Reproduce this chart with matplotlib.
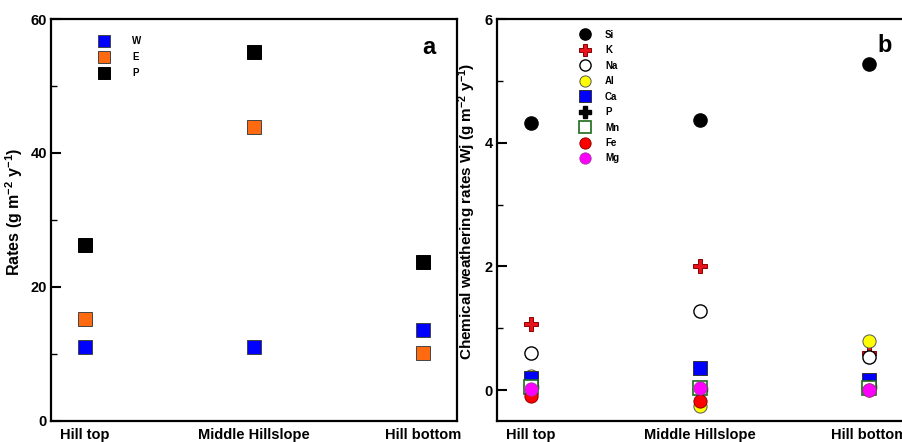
import numpy as np
import matplotlib
matplotlib.use("Agg")
import matplotlib.pyplot as plt
from matplotlib.ticker import MultipleLocator

plt.rcParams['font.family'] = ['Liberation Sans', 'DejaVu Sans']
plt.rcParams['font.weight'] = 'bold'
plt.rcParams['mathtext.fontset'] = 'custom'
plt.rcParams['mathtext.rm'] = 'Liberation Sans:bold'
plt.rcParams['mathtext.bf'] = 'Liberation Sans:bold'
plt.rcParams['mathtext.default'] = 'bf'

sites = ['Hill top', 'Middle Hillslope', 'Hill bottom']

# panel a
w_rates = [11.0, 11.0, 13.6]
e_rates = [15.2, 43.9, 10.1]
p_rates = [26.3, 55.1, 23.7]

# panel b, elements
si = [4.32, 4.36, 5.28]
k = [1.07, 2.00, 0.60]
na = [0.60, 1.28, 0.53]
al = [0.22, -0.25, 0.80]
ca = [0.20, 0.35, 0.17]
p_el = [0.05, 0.02, 0.05]
mn = [0.05, 0.03, 0.03]
fe = [-0.10, -0.17, 0.00]
mg = [0.01, 0.04, 0.00]

x = np.arange(len(sites))

fig = plt.figure(figsize=(9.02, 4.42), dpi=100)
ax1 = fig.add_axes([51 / 902, 21 / 442, 406 / 902, 402 / 442])
ax2 = fig.add_axes([497 / 902, 21 / 442, 406 / 902, 402 / 442])

ms = 10
ax1.plot(x, w_rates, 's', ms=ms, color='#0000ff', mec='#444444', mew=0.7, label='W')
ax1.plot(x, e_rates, 's', ms=ms, color='#ff6a10', mec='#444444', mew=0.7, label='E')
ax1.plot(x, p_rates, 's', ms=ms, color='black', mec='black', mew=0.7, label='P')
ax1.set_ylim(0, 60)
ax1.set_xlim(-0.2, 2.2)
ax1.yaxis.set_major_locator(MultipleLocator(20))
ax1.yaxis.set_minor_locator(MultipleLocator(10))
ax1.set_ylabel('Rates (g m$^{-2}$ y$^{-1}$)', fontsize=11.5, fontweight='bold')
ax1.yaxis.set_label_coords(-0.064, 0.52)
ax1.text(0.93, 0.93, 'a', transform=ax1.transAxes, fontsize=17, fontweight='bold',
         ha='center', va='center')
ax1.legend(loc='upper left', bbox_to_anchor=(0.095, 0.97), frameon=False,
           prop={'size': 7, 'weight': 'bold'}, markerscale=0.8,
           labelspacing=0.62, handletextpad=1.9, borderpad=0)

ms2 = 9.5
ax2.plot(x, si, 'o', ms=ms2, color='black', mec='black', label='Si')
ax2.plot(x, k, 'P', ms=ms2 + 1, color='#e8141c', mec='#8b0000', mew=0.7, label='K')
ax2.plot(x, na, 'o', ms=ms2, mfc='white', mec='black', mew=1.0, label='Na')
ax2.plot(x, al, 'o', ms=ms2, color='#ffff00', mec='#555555', mew=0.7, label='Al')
ax2.plot(x, ca, 's', ms=ms2, color='#0000ff', mec='#333333', mew=0.7, label='Ca')
ax2.plot(x, p_el, 'P', ms=ms2 + 1, color='black', mec='black', label='P')
ax2.plot(x, mn, 's', ms=ms2, mfc='white', mec='#1d6b1d', mew=1.2, label='Mn')
ax2.plot(x, fe, 'o', ms=ms2, color='#ff0000', mec='#8b0000', mew=0.7, label='Fe')
ax2.plot(x, mg, 'o', ms=ms2, color='#ff00ff', mec='#aa33aa', mew=0.7, label='Mg')
ax2.set_ylim(-0.5, 6)
ax2.set_xlim(-0.2, 2.2)
ax2.yaxis.set_major_locator(MultipleLocator(2))
ax2.yaxis.set_minor_locator(MultipleLocator(1))
ax2.set_ylabel('Chemical weathering rates Wj (g m$^{-2}$ y$^{-1}$)', fontsize=11,
               fontweight='bold')
ax2.yaxis.set_label_coords(-0.047, 0.52)
ax2.text(0.955, 0.935, 'b', transform=ax2.transAxes, fontsize=17, fontweight='bold',
         ha='center', va='center')
ax2.legend(loc='upper left', bbox_to_anchor=(0.18, 0.985), frameon=False,
           prop={'size': 7, 'weight': 'bold'}, markerscale=0.85,
           labelspacing=0.56, handletextpad=1.1, borderpad=0)

for ax in (ax1, ax2):
    ax.set_xticks(x)
    ax.set_xticklabels(sites, fontsize=10.5, fontweight='bold')
    ax.tick_params(axis='x', length=0, pad=5)
    ax.tick_params(axis='y', which='major', direction='in', length=7, width=1.5,
                   labelsize=10.5, pad=3)
    ax.tick_params(axis='y', which='minor', direction='in', length=4, width=1)
    for lbl in ax.get_yticklabels():
        lbl.set_fontweight('bold')
    for sp in ax.spines.values():
        sp.set_linewidth(1.6)

fig.savefig('out.png', dpi=100)
